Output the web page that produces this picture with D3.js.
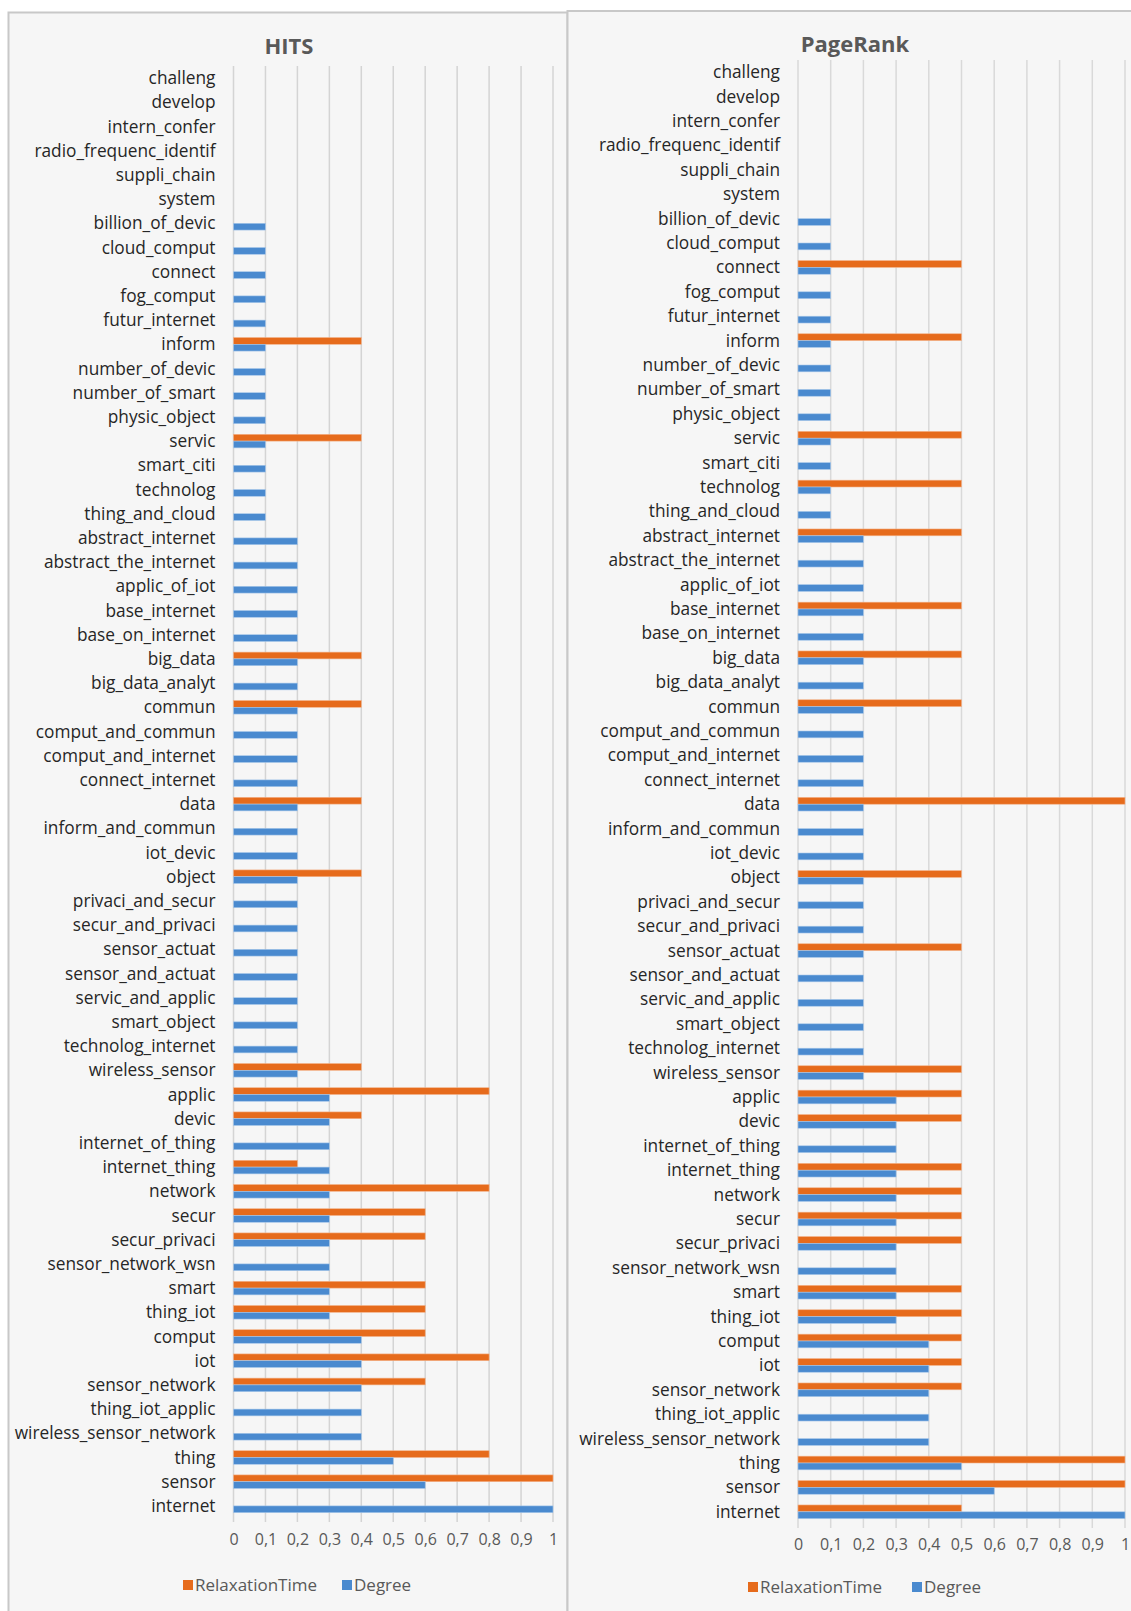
<!DOCTYPE html>
<html>
<head>
<meta charset="utf-8">
<script src="https://cdn.jsdelivr.net/npm/d3@7"></script>
<style>
    body { margin: 0; background: #ffffff; }
    text { font-family: "Open Sans", Lato, sans-serif; }
</style>
</head>
<body>
<script>
//category names, top to bottom as in the chart
var categories = ["challeng", "develop", "intern_confer", "radio_frequenc_identif", "suppli_chain", "system",
    "billion_of_devic", "cloud_comput", "connect", "fog_comput", "futur_internet", "inform",
    "number_of_devic", "number_of_smart", "physic_object", "servic", "smart_citi", "technolog",
    "thing_and_cloud", "abstract_internet", "abstract_the_internet", "applic_of_iot", "base_internet",
    "base_on_internet", "big_data", "big_data_analyt", "commun", "comput_and_commun", "comput_and_internet",
    "connect_internet", "data", "inform_and_commun", "iot_devic", "object", "privaci_and_secur",
    "secur_and_privaci", "sensor_actuat", "sensor_and_actuat", "servic_and_applic", "smart_object",
    "technolog_internet", "wireless_sensor", "applic", "devic", "internet_of_thing", "internet_thing",
    "network", "secur", "secur_privaci", "sensor_network_wsn", "smart", "thing_iot", "comput", "iot",
    "sensor_network", "thing_iot_applic", "wireless_sensor_network", "thing", "sensor", "internet"];

//HITS panel values (same order as categories)
var hitsDegree = [0, 0, 0, 0, 0, 0,
    0.1, 0.1, 0.1, 0.1, 0.1, 0.1, 0.1, 0.1, 0.1, 0.1, 0.1, 0.1, 0.1,
    0.2, 0.2, 0.2, 0.2, 0.2, 0.2, 0.2, 0.2, 0.2, 0.2, 0.2, 0.2, 0.2, 0.2, 0.2, 0.2, 0.2, 0.2, 0.2, 0.2, 0.2, 0.2, 0.2,
    0.3, 0.3, 0.3, 0.3, 0.3, 0.3, 0.3, 0.3, 0.3, 0.3,
    0.4, 0.4, 0.4, 0.4, 0.4, 0.5, 0.6, 1];
var hitsRelax = [0, 0, 0, 0, 0, 0,
    0, 0, 0, 0, 0, 0.4, 0, 0, 0, 0.4, 0, 0, 0,
    0, 0, 0, 0, 0, 0.4, 0, 0.4, 0, 0, 0, 0.4, 0, 0, 0.4, 0, 0, 0, 0, 0, 0, 0, 0.4,
    0.8, 0.4, 0, 0.2, 0.8, 0.6, 0.6, 0, 0.6, 0.6,
    0.6, 0.8, 0.6, 0, 0, 0.8, 1, 0];

//PageRank panel values
var prDegree = [0, 0, 0, 0, 0, 0,
    0.1, 0.1, 0.1, 0.1, 0.1, 0.1, 0.1, 0.1, 0.1, 0.1, 0.1, 0.1, 0.1,
    0.2, 0.2, 0.2, 0.2, 0.2, 0.2, 0.2, 0.2, 0.2, 0.2, 0.2, 0.2, 0.2, 0.2, 0.2, 0.2, 0.2, 0.2, 0.2, 0.2, 0.2, 0.2, 0.2,
    0.3, 0.3, 0.3, 0.3, 0.3, 0.3, 0.3, 0.3, 0.3, 0.3,
    0.4, 0.4, 0.4, 0.4, 0.4, 0.5, 0.6, 1];
var prRelax = [0, 0, 0, 0, 0, 0,
    0, 0, 0.5, 0, 0, 0.5, 0, 0, 0, 0.5, 0, 0.5, 0,
    0.5, 0, 0, 0.5, 0, 0.5, 0, 0.5, 0, 0, 0, 1, 0, 0, 0.5, 0, 0, 0.5, 0, 0, 0, 0, 0.5,
    0.5, 0.5, 0, 0.5, 0.5, 0.5, 0.5, 0, 0.5, 0.5,
    0.5, 0.5, 0.5, 0, 0, 1, 1, 0.5];

//x axis ticks and their labels (decimal comma)
var tickValues = [0, 0.1, 0.2, 0.3, 0.4, 0.5, 0.6, 0.7, 0.8, 0.9, 1];
var tickLabels = ["0", "0,1", "0,2", "0,3", "0,4", "0,5", "0,6", "0,7", "0,8", "0,9", "1"];

var seriesNames = ["RelaxationTime", "Degree"];
var seriesColors = ["#e66b1c", "#4a8acf"];

(function(){

    var width = 1131,
        height = 1611;

    var svg = d3.select("body")
        .append("svg")
        .attr("width", width)
        .attr("height", height);

    //panel layouts
    var panels = [
        {title: "HITS", degree: hitsDegree, relax: hitsRelax,
            frame: [8.5, 12.5, 559, 1620], x0: 233.5, x1: 553, top: 66, bottom: 1518,
            titleX: 289, titleY: 54, tickY: 1546, legendX: 183, legendY: 1585, legendGap: 159, gridColor: "#d4d4d4"},
        {title: "PageRank", degree: prDegree, relax: prRelax,
            frame: [567.5, 11, 600, 1620], x0: 798, x1: 1125, top: 60, bottom: 1524,
            titleX: 855, titleY: 52, tickY: 1551, legendX: 748, legendY: 1587, legendGap: 164, gridColor: "#d9d9d9"}
    ];

    panels.forEach(function(p){
        drawPanel(p);
    });

    function drawPanel(p){
        var g = svg.append("g");

        //chart area background + border
        g.append("rect")
            .attr("x", p.frame[0])
            .attr("y", p.frame[1])
            .attr("width", p.frame[2])
            .attr("height", p.frame[3])
            .attr("fill", "#f6f6f6")
            .attr("stroke", "#c8c8c8")
            .attr("stroke-width", 2);

        var xScale = d3.scaleLinear()
            .domain([0, 1])
            .range([p.x0, p.x1]);

        var yScale = d3.scaleBand()
            .domain(categories)
            .range([p.top, p.bottom]);

        //vertical gridlines
        g.selectAll(".grid")
            .data(tickValues)
            .enter()
            .append("line")
            .attr("x1", function(d){ return xScale(d); })
            .attr("x2", function(d){ return xScale(d); })
            .attr("y1", p.top)
            .attr("y2", p.bottom + 4)
            .attr("stroke", p.gridColor)
            .attr("stroke-width", 1.5);

        //x tick labels through an axis with no lines
        var xAxis = d3.axisBottom(xScale)
            .tickValues(tickValues)
            .tickSize(0)
            .tickFormat(function(d, i){ return tickLabels[i]; });

        var axis = g.append("g")
            .attr("transform", "translate(0," + (p.tickY - 15) + ")")
            .call(xAxis);
        axis.select(".domain").remove();
        axis.selectAll("text")
            .attr("fill", "#595959")
            .style("font-size", "16px")
            .style("font-family", "'Open Sans', Lato, sans-serif");

        //category labels
        g.selectAll(".cat")
            .data(categories)
            .enter()
            .append("text")
            .attr("x", p.x0 - 18)
            .attr("y", function(d){ return yScale(d) + yScale.bandwidth() / 2; })
            .attr("dy", "0.35em")
            .attr("text-anchor", "end")
            .attr("fill", "#262626")
            .style("font-size", "17.3px")
            .text(function(d){ return d; });

        var barH = yScale.bandwidth() * 0.28;

        //relaxation time bars (upper)
        g.selectAll(".relax")
            .data(categories)
            .enter()
            .append("rect")
            .filter(function(d, i){ return p.relax[i] > 0; })
            .attr("x", xScale(0))
            .attr("y", function(d){ return yScale(d) + yScale.bandwidth() / 2 - barH; })
            .attr("width", function(d){ return xScale(p.relax[categories.indexOf(d)]) - xScale(0); })
            .attr("height", barH)
            .attr("fill", seriesColors[0])
            .attr("stroke", "#f3b38a")
            .attr("stroke-width", 0.6);

        //degree bars (lower)
        g.selectAll(".degree")
            .data(categories)
            .enter()
            .append("rect")
            .filter(function(d, i){ return p.degree[i] > 0; })
            .attr("x", xScale(0))
            .attr("y", function(d){ return yScale(d) + yScale.bandwidth() / 2; })
            .attr("width", function(d){ return xScale(p.degree[categories.indexOf(d)]) - xScale(0); })
            .attr("height", barH)
            .attr("fill", seriesColors[1])
            .attr("stroke", "#a9c8ea")
            .attr("stroke-width", 0.6);

        //title
        g.append("text")
            .attr("x", p.titleX)
            .attr("y", p.titleY)
            .attr("text-anchor", "middle")
            .attr("fill", "#595959")
            .style("font-size", "22px")
            .style("font-weight", "bold")
            .text(p.title);

        //legend
        var legend = g.append("g")
            .attr("transform", "translate(" + p.legendX + "," + p.legendY + ")");
        var offsets = [0, p.legendGap];
        seriesNames.forEach(function(name, i){
            legend.append("rect")
                .attr("x", offsets[i])
                .attr("y", -5)
                .attr("width", 10)
                .attr("height", 10)
                .attr("fill", seriesColors[i]);
            legend.append("text")
                .attr("x", offsets[i] + 12)
                .attr("y", 0)
                .attr("dy", "0.35em")
                .attr("fill", "#595959")
                .style("font-size", "17px")
                .text(name);
        });
    };

})();
</script>
</body>
</html>
